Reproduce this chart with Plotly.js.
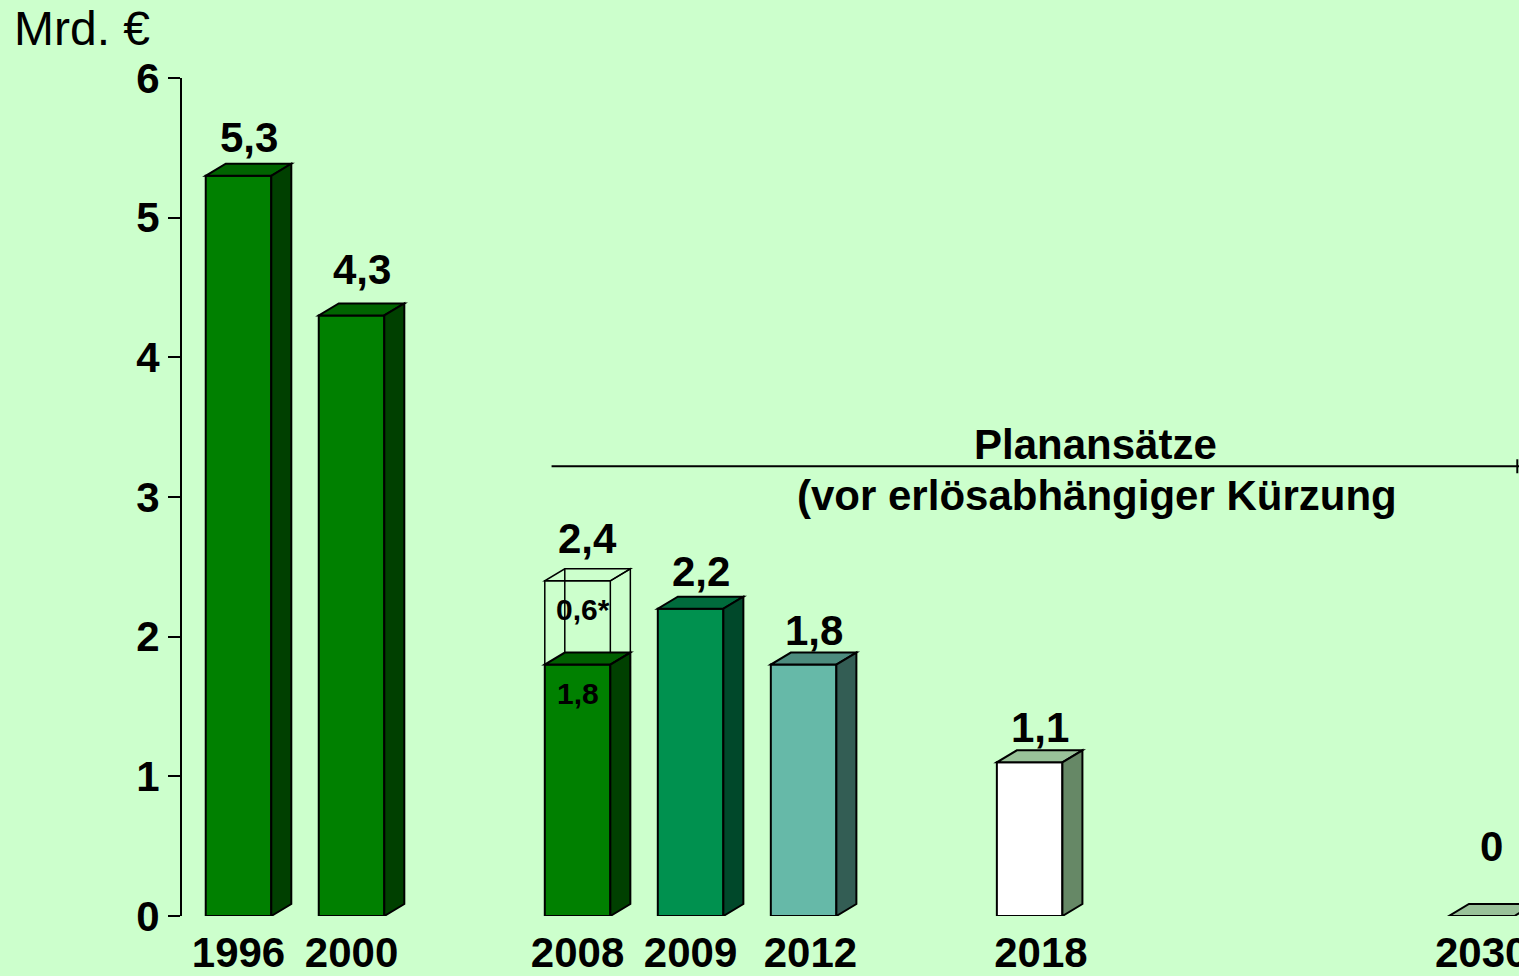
<!DOCTYPE html>
<html>
<head>
<meta charset="utf-8">
<script src="https://cdn.plot.ly/plotly-3.0.1.min.js"></script>
<style>html,body{margin:0;padding:0;background:#CCFFCC;}#chart{width:1519px;height:976px;}</style>
</head>
<body>
<div id="chart"></div>
<script>
// ---- data ----
const years = ['1996', '2000', '2008', '2009', '2012', '2018', '2030'];
const baseValues = [5.3, 4.3, 1.8, 2.2, 1.8, 1.1, 0];
const extraValues = [0, 0, 0.6, 0, 0, 0, 0];          // outlined part (0,6*)
const innerLabelsBase = ['', '', '1,8', '', '', '', ''];
const innerLabelsExtra = ['', '', '0,6*', '', '', '', ''];
const yTicks = [0, 1, 2, 3, 4, 5, 6];
const unitLabel = 'Mrd. €';
const planText1 = 'Planansätze';
const planText2 = '(vor erlösabhängiger Kürzung';

// ---- layout / style ----
const slots = [0, 1, 3, 4, 5, 7, 11];
const tickOffsets = [0, 0, 0, 0, 0.06, 0.1, 0];
const BW = 0.58, DX = 0.177, DY = 0.086;
const frontColors = ['#008000', '#008000', '#008000', '#00914F', '#66B9A8', '#FFFFFF', '#99C299'];
const topColors   = ['#006400', '#006400', '#006000', '#006B3C', '#4D8C7E', '#99C299', '#99C299'];
const sideColors  = ['#004000', '#004000', '#004000', '#00482A', '#335D54', '#668866', '#668866'];
const labelShift = [1, 8, 5, 0, -3, -3, 32];
const FONT = 'Liberation Sans, Arial, sans-serif';
const BIG = 42;

const fmt = v => v === 0 ? '0' : v.toFixed(1).replace('.', ',');

const traces = [{
  type: 'bar', x: slots, y: baseValues, width: BW,
  marker: {color: frontColors, line: {color: '#000', width: 2}},
  hoverinfo: 'skip', showlegend: false
}];
const exIdx = extraValues.map((v, i) => i).filter(i => extraValues[i] > 0);
traces.push({
  type: 'bar', x: exIdx.map(i => slots[i]), y: exIdx.map(i => extraValues[i]),
  base: exIdx.map(i => baseValues[i]), width: BW,
  marker: {color: 'rgba(0,0,0,0)', line: {color: '#000', width: 1.5}},
  hoverinfo: 'skip', showlegend: false
});

const shapes = [];
const annotations = [];
slots.forEach((s, i) => {
  const x0 = s - BW / 2, x1 = s + BW / 2, h = baseValues[i];
  // top face
  shapes.push({type: 'path', xref: 'x', yref: 'y', layer: 'above',
    path: `M${x0},${h} L${x1},${h} L${x1 + DX},${h + DY} L${x0 + DX},${h + DY} Z`,
    fillcolor: topColors[i], line: {color: '#000', width: 2}});
  // side face
  if (h > 0) shapes.push({type: 'path', xref: 'x', yref: 'y', layer: 'above',
    path: `M${x1},0 L${x1 + DX},${DY} L${x1 + DX},${h + DY} L${x1},${h} Z`,
    fillcolor: sideColors[i], line: {color: '#000', width: 2}});
  const e = extraValues[i];
  if (e > 0) {
    const t = h + e;
    shapes.push({type: 'path', xref: 'x', yref: 'y', layer: 'above',
      path: `M${x0},${t} L${x1},${t} L${x1 + DX},${t + DY} L${x0 + DX},${t + DY} Z`,
      fillcolor: 'rgba(0,0,0,0)', line: {color: '#000', width: 1.5}});
    shapes.push({type: 'path', xref: 'x', yref: 'y', layer: 'above',
      path: `M${x1},${h} L${x1 + DX},${h + DY} L${x1 + DX},${t + DY} L${x1},${t}`,
      fillcolor: 'rgba(0,0,0,0)', line: {color: '#000', width: 1.5}});
    shapes.push({type: 'line', xref: 'x', yref: 'y', layer: 'above',
      x0: x0 + DX, x1: x0 + DX, y0: h + DY, y1: t + DY, line: {color: '#000', width: 1.5}});
  }
  annotations.push({x: s + DX / 2, y: h + e + DY, xref: 'x', yref: 'y', text: fmt(h + e),
    showarrow: false, yanchor: 'bottom', yshift: labelShift[i],
    font: {family: FONT, size: BIG, weight: 'bold', color: '#000'}});
  if (innerLabelsBase[i]) annotations.push({x: s, y: h, xref: 'x', yref: 'y', text: innerLabelsBase[i],
    showarrow: false, yanchor: 'top', yshift: -10,
    font: {family: FONT, size: 30, weight: 'bold', color: '#000'}});
  if (innerLabelsExtra[i]) annotations.push({x: s + 0.05, y: h + e / 2, xref: 'x', yref: 'y', text: innerLabelsExtra[i],
    showarrow: false, yanchor: 'middle', yshift: 13,
    font: {family: FONT, size: 30, weight: 'bold', color: '#000'}});
});

// Planansätze line with arrow head at the right edge
shapes.push({type: 'line', xref: 'x', yref: 'y', layer: 'above', x0: 2.77, x1: 11.5, y0: 3.22, y1: 3.22,
  line: {color: '#000', width: 2}});
shapes.push({type: 'line', xref: 'x', yref: 'y', layer: 'above', x0: 11.315, x1: 11.315, y0: 3.17, y1: 3.27,
  line: {color: '#000', width: 2}});
annotations.push({x: 7.58, y: 3.22, xref: 'x', yref: 'y', text: planText1, showarrow: false,
  yanchor: 'bottom', yshift: -4, font: {family: FONT, size: BIG, weight: 'bold', color: '#000'}});
annotations.push({x: 7.6, y: 3.22, xref: 'x', yref: 'y', text: planText2, showarrow: false,
  yanchor: 'top', yshift: -4, font: {family: FONT, size: BIG, weight: 'bold', color: '#000'}});
annotations.push({x: -0.1275, y: 1.0585, xref: 'paper', yref: 'paper', text: unitLabel, showarrow: false,
  xanchor: 'left', yanchor: 'middle', font: {family: FONT, size: 48, color: '#000'}});

const layout = {
  width: 1519, height: 976,
  margin: {l: 182, r: 0, t: 78, b: 60, pad: 0},
  paper_bgcolor: '#CCFFCC', plot_bgcolor: '#CCFFCC',
  barmode: 'overlay', showlegend: false,
  xaxis: {range: [-0.5, 11.33], tickvals: slots.map((s, i) => s + tickOffsets[i]), ticktext: years,
    ticks: '', showline: false, ticklabeloverflow: 'allow', ticklabelstandoff: 8,
    showgrid: false, zeroline: false, fixedrange: true,
    tickfont: {family: FONT, size: BIG, weight: 'bold', color: '#000'}},
  yaxis: {range: [0, 6], tickvals: yTicks, ticktext: yTicks.map(String), ticks: 'outside', ticklen: 12,
    tickwidth: 2, tickcolor: '#000', showline: true, linewidth: 2, linecolor: '#000',
    showgrid: false, zeroline: false, fixedrange: true,
    tickfont: {family: FONT, size: BIG, weight: 'bold', color: '#000'}},
  shapes: shapes, annotations: annotations
};
Plotly.newPlot('chart', traces, layout, {displayModeBar: false, staticPlot: true});
</script>
</body>
</html>
